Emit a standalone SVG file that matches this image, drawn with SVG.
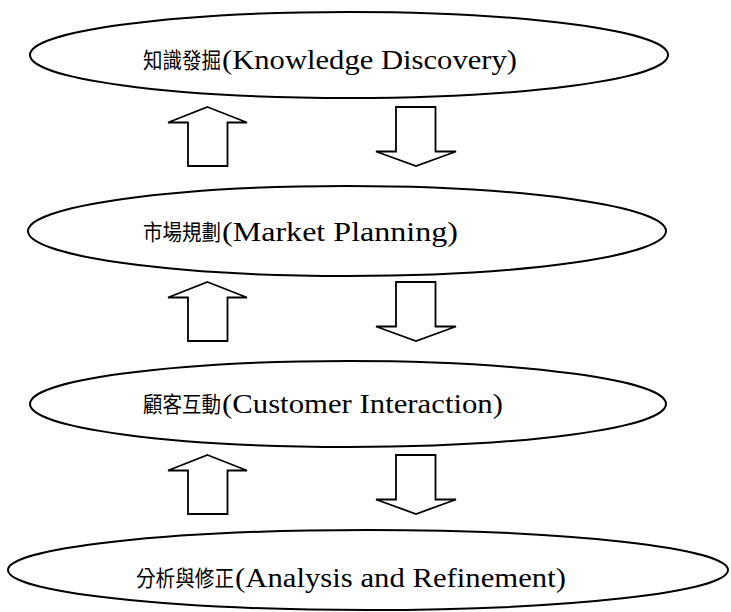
<svg xmlns="http://www.w3.org/2000/svg" width="731" height="612" viewBox="0 0 731 612">
  <style>
    .stage { fill: #ffffff; stroke: #000000; stroke-width: 2; }
    .flow { fill: #ffffff; stroke: #000000; stroke-width: 1.8; stroke-linejoin: miter; }
    .cjk { font-family: "Noto Sans CJK TC", "Liberation Serif", sans-serif; font-size: 22px; fill: #000; }
    .lat { font-family: "Liberation Serif", "Noto Sans CJK TC", serif; font-size: 28px; fill: #000; }
  </style>
  <defs>
    <!-- block arrows, drawn 59px tall from their top edge -->
    <path id="arrow-up" d="M39.5,0 L79,15.5 L59.5,15.5 L59.5,59 L20,59 L20,15.5 L0,15.5 Z"/>
    <path id="arrow-down" d="M20,0 L59.5,0 L59.5,44.5 L80,44.5 L40,59 L0,44.5 L20,44.5 Z"/>
  </defs>
  <rect width="731" height="612" fill="#ffffff"/>

  <g id="stage-discovery">
    <ellipse class="stage" cx="349" cy="55" rx="319" ry="43"/>
    <text class="cjk" x="143" y="68" textLength="78" lengthAdjust="spacingAndGlyphs">知識發掘</text>
    <text class="lat" x="222" y="69" textLength="295" lengthAdjust="spacingAndGlyphs">(Knowledge Discovery)</text>
  </g>

  <g id="stage-planning">
    <ellipse class="stage" cx="347" cy="231" rx="319" ry="45"/>
    <text class="cjk" x="143" y="240" textLength="78" lengthAdjust="spacingAndGlyphs">市場規劃</text>
    <text class="lat" x="222" y="241" textLength="236" lengthAdjust="spacingAndGlyphs">(Market Planning)</text>
  </g>

  <g id="stage-interaction">
    <ellipse class="stage" cx="348" cy="404" rx="318" ry="43"/>
    <text class="cjk" x="143" y="412" textLength="78" lengthAdjust="spacingAndGlyphs">顧客互動</text>
    <text class="lat" x="222" y="413" textLength="281" lengthAdjust="spacingAndGlyphs">(Customer Interaction)</text>
  </g>

  <g id="stage-refinement">
    <ellipse class="stage" cx="368" cy="570" rx="360" ry="40"/>
    <text class="cjk" x="136" y="586" textLength="98" lengthAdjust="spacingAndGlyphs">分析與修正</text>
    <text class="lat" x="235" y="587" textLength="331" lengthAdjust="spacingAndGlyphs">(Analysis and Refinement)</text>
  </g>

  <g id="connectors">
    <use href="#arrow-up" class="flow" x="168" y="107"/>
    <use href="#arrow-down" class="flow" x="376" y="107"/>
    <use href="#arrow-up" class="flow" x="168" y="282"/>
    <use href="#arrow-down" class="flow" x="376" y="282"/>
    <use href="#arrow-up" class="flow" x="168" y="455"/>
    <use href="#arrow-down" class="flow" x="376" y="455"/>
  </g>
</svg>
